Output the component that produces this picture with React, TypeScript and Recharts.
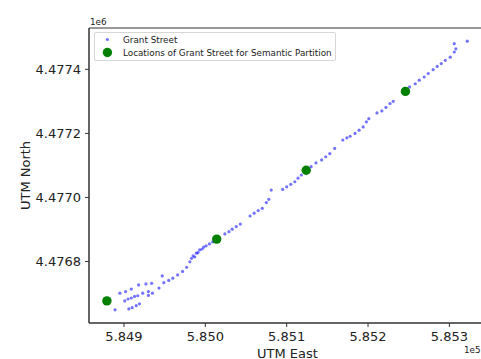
import { Customized, Legend, ReferenceArea, Scatter, ScatterChart, XAxis, YAxis } from 'recharts'

// Grant Street trace (UTM metres)
const streetEast = [
  584889, 584906, 584910, 584915, 584919, 584930, 584935, 584943,
  584901, 584905, 584909, 584913, 584917, 584923, 584930,
  584895, 584902, 584909, 584918, 584927, 584934, 584947,
  584949, 584955, 584960, 584966, 584972, 584977, 584981, 584983, 584985, 584987,
  584989, 584991, 584993, 584996, 584998, 585001, 585005, 585009,
  585024, 585029, 585033, 585038, 585043, 585055, 585060, 585065, 585070, 585075,
  585078, 585081, 585095, 585100, 585105, 585110, 585114, 585118, 585130, 585136,
  585143, 585148, 585153, 585159, 585169, 585174, 585178, 585184, 585189, 585194,
  585198, 585201, 585211, 585217, 585222, 585227, 585231, 585251, 585258, 585263,
  585269, 585274, 585280, 585285, 585290, 585295, 585301, 585306, 585308, 585306,
  585322,
]
const streetNorth = [
  4476649, 4476652, 4476656, 4476662, 4476668, 4476694, 4476701, 4476717,
  4476677, 4476683, 4476686, 4476691, 4476693, 4476701, 4476706,
  4476701, 4476706, 4476714, 4476727, 4476730, 4476732, 4476755,
  4476734, 4476741, 4476748, 4476758, 4476769, 4476782, 4476799, 4476810, 4476818, 4476814,
  4476826, 4476828, 4476836, 4476839, 4476845, 4476849, 4476855, 4476861,
  4476886, 4476893, 4476901, 4476909, 4476917, 4476942, 4476951, 4476959, 4476966, 4476984,
  4476994, 4477023, 4477025, 4477033, 4477041, 4477049, 4477060, 4477070, 4477096, 4477108,
  4477117, 4477127, 4477137, 4477153, 4477179, 4477186, 4477191, 4477200, 4477210, 4477220,
  4477236, 4477246, 4477264, 4477270, 4477281, 4477293, 4477300, 4477345, 4477355, 4477366,
  4477376, 4477387, 4477399, 4477409, 4477418, 4477428, 4477438, 4477454, 4477464, 4477480,
  4477488,
]

// partition locations
const partitionEast = [584879, 585014, 585124, 585246]
const partitionNorth = [4476677, 4476870, 4477085, 4477331]

const eastTicks = [584900, 585000, 585100, 585200, 585300]
const northTicks = [4476800, 4477000, 4477200, 4477400]
const eastDomain = [584857, 585345]
const northDomain = [4476608, 4477529]

const street = streetEast.map((e, i) => ({ east: e, north: streetNorth[i] }))
const partitions = partitionEast.map((e, i) => ({ east: e, north: partitionNorth[i] }))

const axisColor = '#333'
const font = 'DejaVu Sans, sans-serif'

const renderLegend = (props: any) => (
  <div
    style={{
      position: 'relative',
      width: 242,
      height: 29,
      boxSizing: 'border-box',
      border: '1px solid #d6d6d6',
      borderRadius: 2,
      background: 'rgba(255,255,255,0.85)',
      fontFamily: font,
      fontSize: 8.8,
      color: '#222',
    }}
  >
    {(props.payload || []).map((entry: any, i: number) => (
      <div
        key={entry.value}
        style={{ position: 'absolute', left: 0, top: i === 0 ? 0 : 13.4, height: 13, display: 'flex', alignItems: 'center' }}
      >
        <svg width={28} height={13} style={{ display: 'block' }}>
          <circle cx={12.4} cy={6.5} r={i === 0 ? 1.6 : 4.7} fill={entry.color} fillOpacity={i === 0 ? 0.55 : 1} />
        </svg>
        <span style={{ whiteSpace: 'nowrap' }}>{entry.value}</span>
      </div>
    ))}
  </div>
)

const OffsetTexts = () => (
  <g fontFamily={font} fontSize={8.8} fill="#222">
    <text x={90} y={25}>1e6</text>
    <text x={464} y={353}>1e5</text>
  </g>
)

export default function App() {
  return (
    <div style={{ position: 'absolute', left: 0, top: 0, width: 481, height: 359, overflow: 'hidden', background: '#fff' }}>
      <ScatterChart width={490} height={359} margin={{ top: 28, right: 4, bottom: 0, left: 0 }} style={{ fontFamily: font }}>
        <XAxis
          type="number"
          dataKey="east"
          domain={eastDomain}
          ticks={eastTicks}
          allowDataOverflow
          height={36}
          tickSize={4}
          tickMargin={5}
          stroke={axisColor}
          tick={{ fill: '#222', fontSize: 13 }}
          tickFormatter={(v: number) => (v / 1e5).toFixed(3)}
          label={{ value: 'UTM East', position: 'insideBottom', offset: 1.5, fill: '#222', fontSize: 13 }}
        />
        <YAxis
          type="number"
          dataKey="north"
          domain={northDomain}
          ticks={northTicks}
          allowDataOverflow
          width={89}
          tickSize={4}
          tickMargin={4}
          stroke={axisColor}
          tick={{ fill: '#222', fontSize: 13 }}
          tickFormatter={(v: number) => (v / 1e6).toFixed(4)}
          label={{ value: 'UTM North', angle: -90, position: 'insideLeft', offset: 25, fill: '#222', fontSize: 13, style: { textAnchor: 'middle' } }}
        />
        <ReferenceArea
          x1={eastDomain[0]}
          x2={eastDomain[1]}
          y1={northDomain[0]}
          y2={northDomain[1]}
          fill="none"
          stroke={axisColor}
          strokeWidth={1}
          fillOpacity={0}
        />
        <Scatter
          name="Grant Street"
          data={street}
          fill="#0000ff"
          isAnimationActive={false}
          shape={(p: any) => <circle cx={p.cx} cy={p.cy} r={1.6} fill="#0000ff" fillOpacity={0.55} />}
        />
        <Scatter
          name="Locations of Grant Street for Semantic Partition"
          data={partitions}
          fill="#008000"
          isAnimationActive={false}
          shape={(p: any) => <circle cx={p.cx} cy={p.cy} r={4.7} fill="#008000" />}
        />
        <Legend
          layout="vertical"
          align="center"
          verticalAlign="middle"
          content={renderLegend}
          wrapperStyle={{ left: 94, top: 32, width: 'auto', height: 'auto' }}
        />
        <Customized component={OffsetTexts} />
      </ScatterChart>
    </div>
  )
}
